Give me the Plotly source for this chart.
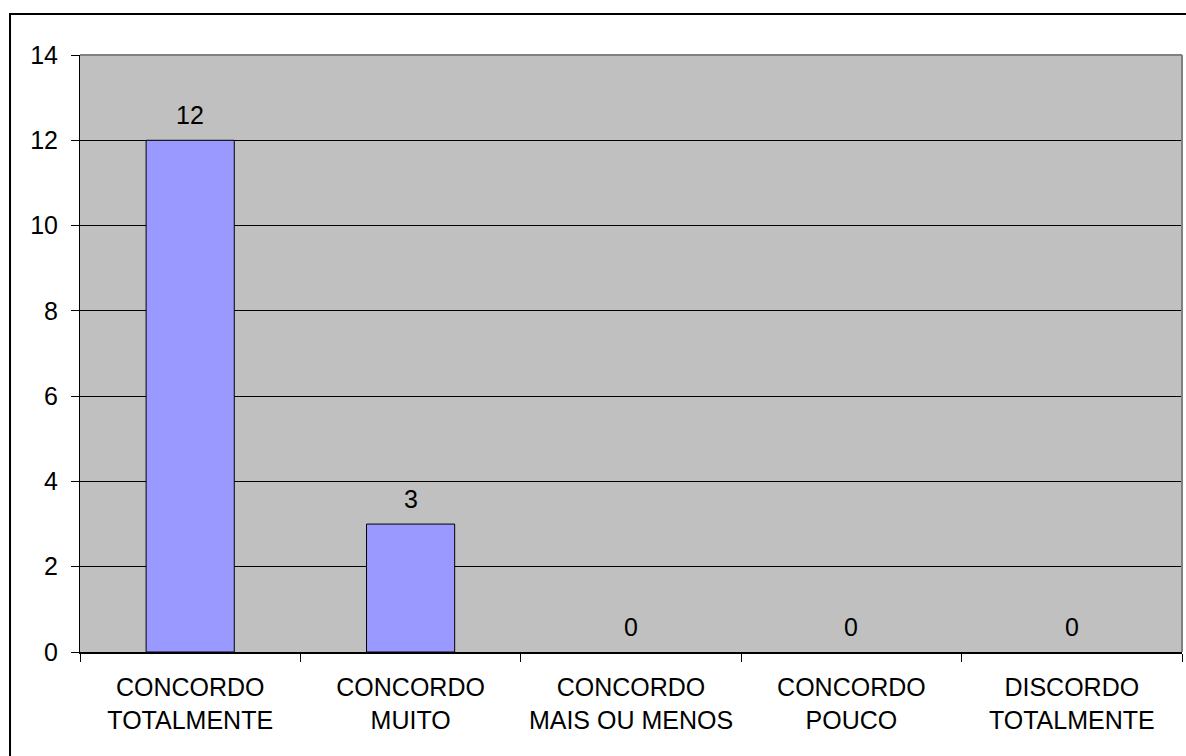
import plotly.graph_objects as go

categories = [
    "CONCORDO<br>TOTALMENTE",
    "CONCORDO<br>MUITO",
    "CONCORDO<br>MAIS OU MENOS",
    "CONCORDO<br>POUCO",
    "DISCORDO<br>TOTALMENTE",
]
counts = [12, 3, 0, 0, 0]
y_ticks = [0, 2, 4, 6, 8, 10, 12, 14]

FONT = dict(family="Liberation Sans, Arial, sans-serif", size=25, color="black")

fig = go.Figure()
fig.add_trace(go.Bar(
    x=categories,
    y=counts,
    width=0.4,
    marker=dict(
        color="#9999FF",
        line=dict(color="black", width=[1 if v else 0 for v in counts]),
    ),
    hoverinfo="x+y",
))

# value labels above each bar
for cat, val in zip(categories, counts):
    fig.add_annotation(
        x=cat, y=val, text=str(val), showarrow=False,
        xref="x", yref="y", yanchor="bottom", yshift=9,
        font=FONT,
    )

# grey top/right border of the plot area
fig.add_shape(type="line", xref="paper", yref="paper", x0=0, x1=1, y0=1, y1=1,
              line=dict(color="#808080", width=2))
fig.add_shape(type="line", xref="paper", yref="paper", x0=1, x1=1, y0=0, y1=1,
              line=dict(color="#808080", width=2))
# outer chart frame
fig.add_shape(type="rect", xref="paper", yref="paper",
              x0=-0.0635, x1=1.01, y0=-0.2, y1=1.0687,
              line=dict(color="black", width=2), layer="below")

fig.update_layout(
    width=1186, height=756,
    margin=dict(l=80, r=4, t=55, b=104),
    paper_bgcolor="white",
    plot_bgcolor="#C0C0C0",
    showlegend=False,
    bargap=0.6,
    font=FONT,
)
fig.update_xaxes(
    showline=True, linecolor="black", linewidth=2,
    ticks="outside", tickson="boundaries", ticklen=8, tickcolor="black", tickwidth=1,
    showgrid=False, tickfont=FONT, ticklabelstandoff=12,
)
fig.update_yaxes(
    range=[0, 14], tickvals=y_ticks,
    showline=True, linecolor="black", linewidth=1,
    ticks="outside", ticklen=8, tickcolor="black", tickwidth=1,
    showgrid=True, gridcolor="black", gridwidth=1,
    zeroline=False, tickfont=FONT, ticklabelstandoff=8,
)

fig.write_html("out.html")
